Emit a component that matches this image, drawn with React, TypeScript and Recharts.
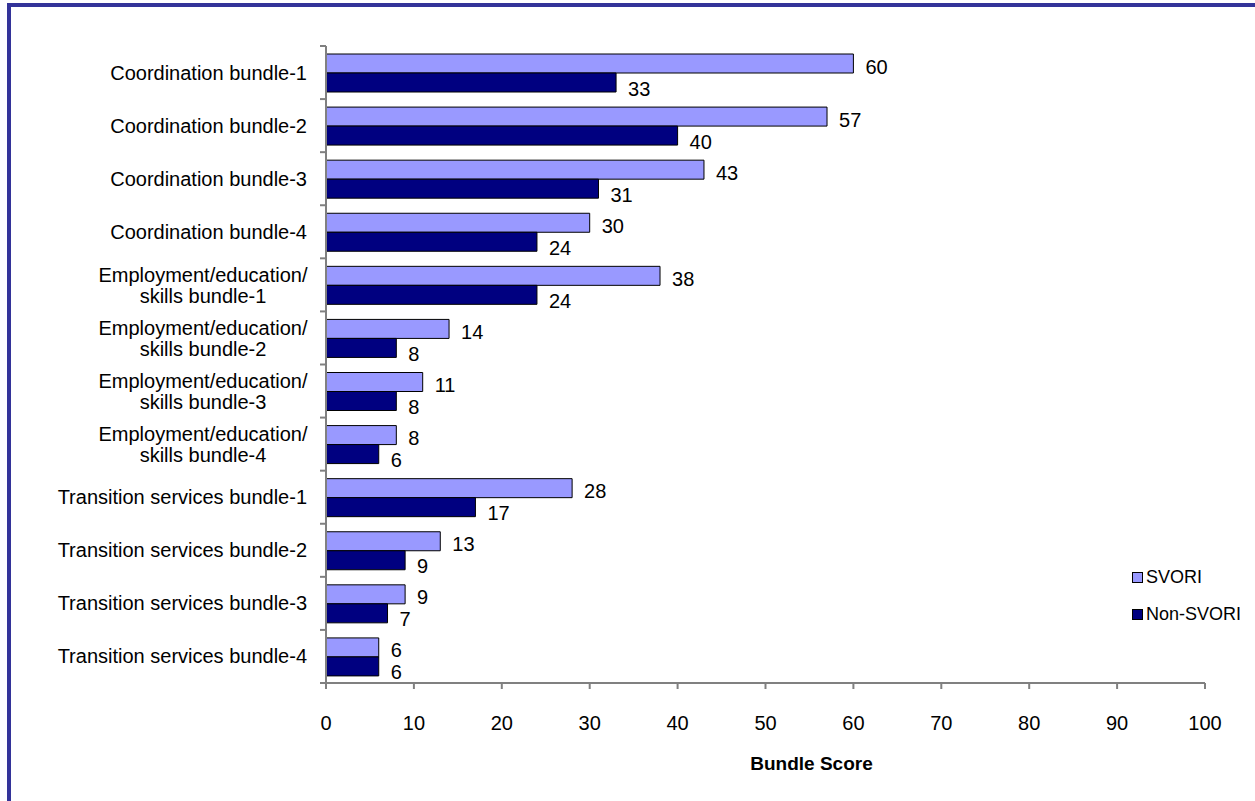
import { BarChart, Bar, XAxis, YAxis, LabelList } from 'recharts'

const categories = [
  'Coordination bundle-1',
  'Coordination bundle-2',
  'Coordination bundle-3',
  'Coordination bundle-4',
  'Employment/education/\nskills bundle-1',
  'Employment/education/\nskills bundle-2',
  'Employment/education/\nskills bundle-3',
  'Employment/education/\nskills bundle-4',
  'Transition services bundle-1',
  'Transition services bundle-2',
  'Transition services bundle-3',
  'Transition services bundle-4',
]
const svori = [60, 57, 43, 30, 38, 14, 11, 8, 28, 13, 9, 6]
const nonSvori = [33, 40, 31, 24, 24, 8, 8, 6, 17, 9, 7, 6]
const xTicks = [0, 10, 20, 30, 40, 50, 60, 70, 80, 90, 100]

const series = [
  { key: 'svori', name: 'SVORI', color: '#9999FF', dy: 10 },
  { key: 'nonSvori', name: 'Non-SVORI', color: '#000080', dy: 13 },
]

const data = categories.map((name, i) => ({ name, svori: svori[i], nonSvori: nonSvori[i] }))

const FONT = '"Liberation Sans", Arial, sans-serif'
const AXIS = '#808080'
const TOP = 46
const PLOT_H = 637
const BAND = PLOT_H / categories.length

function CategoryTick(props: any) {
  const { x, y, payload, index } = props
  const axisX = x + 19
  const lines: string[] = String(payload.value).split('\n')
  return (
    <g>
      <line x1={axisX - 6} x2={axisX} y1={y - BAND / 2} y2={y - BAND / 2} stroke={AXIS} strokeWidth={2} />
      {index === categories.length - 1 && (
        <line x1={axisX - 6} x2={axisX} y1={y + BAND / 2} y2={y + BAND / 2} stroke={AXIS} strokeWidth={2} />
      )}
      {lines.length === 1 ? (
        <text x={x} y={y + 7} textAnchor="end" fontSize={20} fill="#000" fontFamily={FONT}>
          {lines[0]}
        </text>
      ) : (
        lines.map((l, i) => (
          <text key={i} x={x - 104} y={y - 3 + i * 21} textAnchor="middle" fontSize={20} fill="#000" fontFamily={FONT}>
            {l}
          </text>
        ))
      )}
    </g>
  )
}

function valueLabel(dy: number) {
  return (p: any) => (
    <text x={p.x + p.width + 12} y={p.y + p.height / 2 + dy} fontSize={20} fill="#000" fontFamily={FONT}>
      {p.value}
    </text>
  )
}

function LegendBox() {
  return (
    <div style={{ position: 'absolute', left: 1132, top: 559, fontFamily: FONT, fontSize: 18, color: '#000' }}>
      {series.map(s => (
        <div key={s.key} style={{ display: 'flex', alignItems: 'center', height: 37 }}>
          <span style={{ width: 9, height: 9, background: s.color, border: '1px solid #000', marginRight: 3 }} />
          <span>{s.name}</span>
        </div>
      ))}
    </div>
  )
}

export default function App() {
  return (
    <div style={{ position: 'absolute', left: 0, top: 0, width: 1255, height: 801, overflow: 'hidden', background: '#fff' }}>
      <div
        style={{
          position: 'absolute', left: 7, top: 3, width: 1400, height: 1000,
          borderTop: '4px solid #333399', borderLeft: '4px solid #333399',
        }}
      />
      <div style={{ position: 'absolute', left: 0, top: 0 }}>
        <BarChart
          width={1255}
          height={801}
          data={data}
          layout="vertical"
          margin={{ top: TOP, right: 50, left: 0, bottom: 0 }}
          barSize={19}
          barGap={0}
        >
          <XAxis
            type="number"
            domain={[0, 100]}
            ticks={xTicks}
            interval={0}
            height={118}
            tick={{ fontSize: 20, fill: '#000', fontFamily: FONT }}
            tickSize={6}
            tickMargin={27}
            axisLine={{ stroke: AXIS, strokeWidth: 2 }}
            tickLine={{ stroke: AXIS, strokeWidth: 2 }}
            label={{ value: 'Bundle Score', position: 'insideBottom', offset: 31, dx: 46, fontSize: 19, fontWeight: 'bold', fill: '#000', fontFamily: FONT }}
          />
          <YAxis
            type="category"
            dataKey="name"
            width={326}
            interval={0}
            tickSize={0}
            tickMargin={19}
            tickLine={false}
            axisLine={{ stroke: AXIS, strokeWidth: 2 }}
            tick={<CategoryTick />}
          />
          {series.map(s => (
            <Bar key={s.key} dataKey={s.key} name={s.name} fill={s.color} stroke="#000" strokeWidth={1} isAnimationActive={false}>
              <LabelList dataKey={s.key} content={valueLabel(s.dy)} />
            </Bar>
          ))}
        </BarChart>
      </div>
      <LegendBox />
    </div>
  )
}
